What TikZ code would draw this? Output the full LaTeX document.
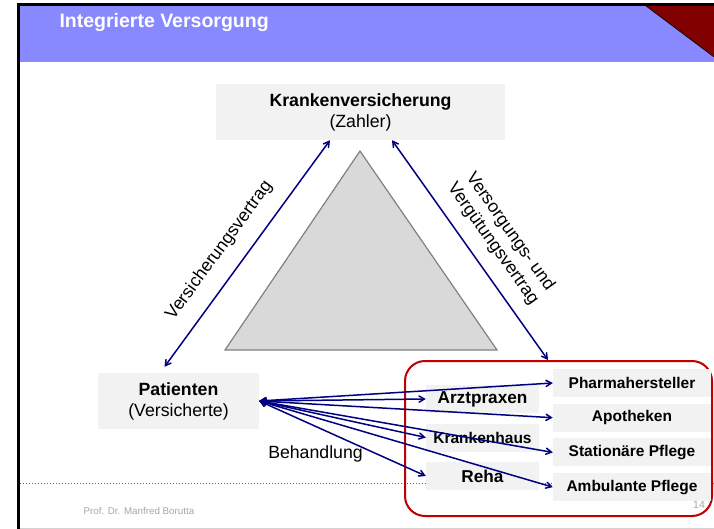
\documentclass[tikz,border=0pt]{standalone}
\usepackage{fontspec}
\setmainfont{Liberation Sans}
\usepackage{xcolor}
\usepackage{tikz}
\usetikzlibrary{shapes.geometric, arrows}
\definecolor{headblue}{HTML}{8888FF}
\definecolor{cornerred}{HTML}{800000}
\definecolor{boxgray}{HTML}{F2F2F2}
\definecolor{arrowblue}{HTML}{000080}
\definecolor{framered}{HTML}{C00000}
\tikzstyle{kbox} = [rectangle, minimum width=289pt, minimum height=56pt, text centered, align=center, fill=boxgray, font=\fontsize{17.7}{21}\selectfont]
\tikzstyle{pbox} = [kbox, minimum width=161pt]
\tikzstyle{lbox} = [rectangle, minimum width=113pt, minimum height=28pt, inner sep=0pt, text centered, fill=boxgray, font=\bfseries\fontsize{17.2}{20}\selectfont]
\tikzstyle{rbox} = [lbox, minimum width=158pt, font=\bfseries\fontsize{15.5}{18}\selectfont]
\tikzstyle{lbl} = [text=black, font=\fontsize{17.7}{21}\selectfont, align=center]
\tikzstyle{arrow} = [line width=1.5pt, arrowblue, <->, >=angle 60]
\begin{document}
\begin{tikzpicture}[x=1pt, y=-1pt, node distance=34.7pt]
\useasboundingbox (0,0) rectangle (714,529);

% slide frame
\fill[headblue] (20,6) rectangle (714,62);
\fill[cornerred] (646,6) -- (714,6) -- (714,57) -- cycle;
\draw[black, line width=0.6pt] (646,6) -- (714,57);
\draw[black, line width=3pt] (18.5,3) -- (18.5,529);
\draw[black, line width=3pt] (17,4.5) -- (714,4.5);
\draw[gray!35, line width=1pt] (20,528) -- (714,528);
\draw[framered!80, dotted, line width=1pt] (20,483) -- (714,483);
\node (title) [anchor=west, text=white, font=\bfseries\fontsize{19.5}{22}\selectfont] at (56,23) {Integrierte Versorgung};
\node (author) [anchor=west, text=gray!70, font=\fontsize{9.8}{12}\selectfont] at (80,511) {Prof. Dr. Manfred Borutta};
\node (page) [text=gray!70, font=\fontsize{10.5}{12}\selectfont] at (699,505) {14};

% triangle
\draw[gray, fill=gray!30, line width=1.2pt] (360,151) -- (497,350) -- (225,350) -- cycle;

\node (K) [kbox] at (360.5,112) {\textbf{Krankenversicherung}\\(Zahler)};
\node (P) [pbox] at (178.5,401) {\textbf{Patienten}\\(Versicherte)};
\node (G) [draw=framered, line width=2pt, rounded corners=20pt, minimum width=307pt, minimum height=155pt] at (558.5,438.5) {};

\node (1) [rbox] at (632,383) {Pharmahersteller};
\node (2) [rbox, below of=1] {Apotheken};
\node (3) [rbox, below of=2] {Stationäre Pflege};
\node (4) [rbox, below of=3] {Ambulante Pflege};

\node (A) [lbox] at (482.5,399) {Arztpraxen};
\node (B) [lbox, node distance=38.5pt, below of=A, font=\bfseries\fontsize{15.5}{18}\selectfont] {Krankenhaus};
\node (C) [lbox, node distance=38.5pt, below of=B] {Reha};

\node (beh) [lbl] at (315.5,454) {Behandlung};

\draw [arrow] ([xshift=-14pt,yshift=6pt]P.north) -- node[lbl, sloped, above=12pt, pos=0.45] {Versicherungsvertrag} ([xshift=-30.5pt]K.south);
\draw [arrow] ([xshift=31.5pt]K.south) -- node[lbl, sloped, above=10pt, pos=0.53] {Versorgungs- und\\Vergütungsvertrag} ([xshift=-10.5pt]G.north);

\draw [arrow] (P.east) -- (1.west);
\draw [arrow] (P.east) -- (A.west);
\draw [arrow] (P.east) -- (2.west);
\draw [arrow] (P.east) -- (B.west);
\draw [arrow] (P.east) -- (3.west);
\draw [arrow] (P.east) -- (C.west);
\draw [arrow] (P.east) -- (4.west);

\end{tikzpicture}
\end{document}
